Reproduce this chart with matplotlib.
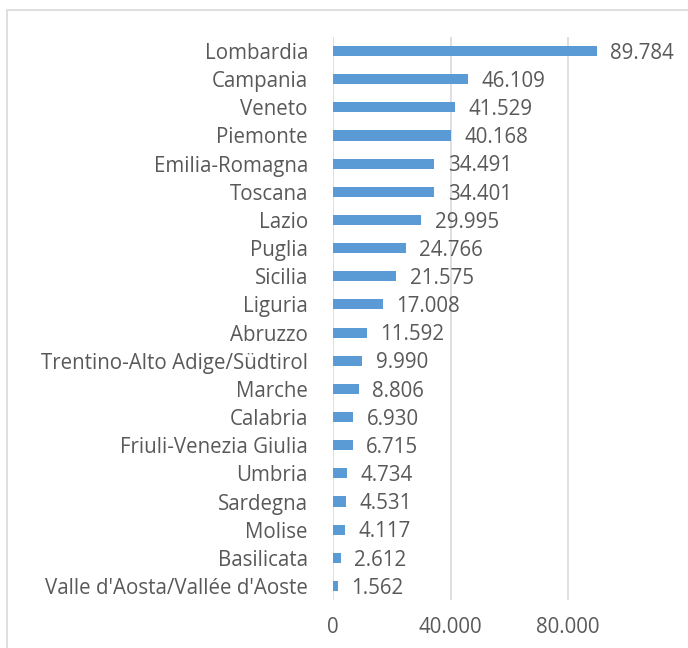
import matplotlib.pyplot as plt
from matplotlib.patches import Rectangle
from matplotlib.ticker import FuncFormatter

# Dati
regioni = [
    "Lombardia", "Campania", "Veneto", "Piemonte", "Emilia-Romagna",
    "Toscana", "Lazio", "Puglia", "Sicilia", "Liguria", "Abruzzo",
    "Trentino-Alto Adige/Südtirol", "Marche", "Calabria",
    "Friuli-Venezia Giulia", "Umbria", "Sardegna", "Molise",
    "Basilicata", "Valle d'Aosta/Vallée d'Aoste",
]
valori = [
    89784, 46109, 41529, 40168, 34491, 34401, 29995, 24766, 21575, 17008,
    11592, 9990, 8806, 6930, 6715, 4734, 4531, 4117, 2612, 1562,
]
x_ticks = [0, 40000, 80000]


def fmt_it(v, pos=None):
    # separatore delle migliaia con il punto
    return f"{int(v):,}".replace(",", ".")


plt.rcParams['font.family'] = ['Open Sans', 'DejaVu Sans']
testo = '#595959'
fs = 14.8

fig = plt.figure(figsize=(6.88, 6.48), dpi=100)
ax = fig.add_axes([0.484, 0.074, 0.427, 0.869])

pos = list(range(len(regioni)))
ax.barh(pos, valori, height=0.36, color='#5B9BD5', zorder=3)

for y, v in zip(pos, valori):
    ax.text(v + 4600, y + 0.08, fmt_it(v), va='center', ha='left',
            fontsize=fs, color=testo, zorder=4)

ax.set_yticks(pos)
ax.set_yticklabels(regioni, fontsize=fs, color=testo)
ax.set_ylim(len(regioni) - 0.5, -0.5)
ax.set_xlim(0, 100000)
ax.set_xticks(x_ticks)
ax.xaxis.set_major_formatter(FuncFormatter(fmt_it))
ax.tick_params(axis='x', length=0, pad=12, labelsize=fs, labelcolor=testo)
ax.tick_params(axis='y', length=0, pad=18)

ax.grid(axis='x', color='#D9D9D9', linewidth=1.2, zorder=0)
for s in ax.spines.values():
    s.set_visible(False)

# cornice esterna del grafico
fig.patches.append(Rectangle((7 / 688, -0.1), 1.2, 0.1 + 1 - 10 / 648,
                             transform=fig.transFigure, fill=False,
                             edgecolor='#D9D9D9', linewidth=1.2))

fig.savefig('out.png', dpi=100)
